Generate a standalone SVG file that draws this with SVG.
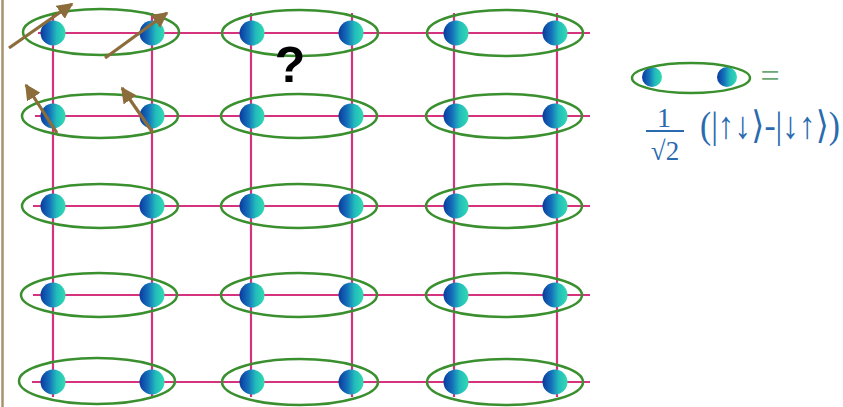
<svg xmlns="http://www.w3.org/2000/svg" width="843" height="407" viewBox="0 0 843 407">
  <defs>
    <linearGradient id="ball" x1="0%" y1="50%" x2="100%" y2="50%">
      <stop offset="0" stop-color="#0a3a9e"/>
      <stop offset="0.35" stop-color="#1570ba"/>
      <stop offset="0.65" stop-color="#22bcbc"/>
      <stop offset="1" stop-color="#32dab0"/>
    </linearGradient>
    <marker id="tip" viewBox="0 0 10 10" refX="9" refY="5" markerWidth="5" markerHeight="5" orient="auto" markerUnits="strokeWidth">
      <path d="M0,0 L10,5 L0,10 z" fill="#8c6c3a"/>
    </marker>
    <g id="pair">
      <circle cx="-49.5" cy="0" r="12.5" fill="url(#ball)"/>
      <circle cx="49.5" cy="0" r="12.5" fill="url(#ball)"/>
    </g>
  </defs>
  <style>
    .bond { fill: none; stroke: #3a8f2e; stroke-width: 2.5; }
    .lat { stroke: #d6337f; stroke-width: 2.2; fill: none; }
    .spin { stroke: #8c6c3a; stroke-width: 3.2; fill: none; marker-end: url(#tip); }
    .math { font-family: "Liberation Serif", "DejaVu Serif", serif; fill: #2a6bb0; }
  </style>

  <rect width="843" height="407" fill="#ffffff"/>
  <!-- left frame edge -->
  <line x1="2.5" y1="0" x2="2.5" y2="407" stroke="#a8926c" stroke-width="2.5"/>

  <!-- square lattice -->
  <g id="lattice">
    <g class="lat">
      <line x1="38" y1="33" x2="590" y2="33"/>
      <line x1="35" y1="116" x2="590" y2="116"/>
      <line x1="33" y1="206" x2="590" y2="206"/>
      <line x1="33" y1="295" x2="590" y2="295"/>
      <line x1="32" y1="382" x2="590" y2="382"/>
      <line x1="53" y1="13" x2="53" y2="397"/>
      <line x1="152" y1="13" x2="152" y2="397"/>
      <line x1="251" y1="13" x2="251" y2="397"/>
      <line x1="352" y1="13" x2="352" y2="397"/>
      <line x1="454" y1="13" x2="454" y2="397"/>
      <line x1="557" y1="13" x2="557" y2="397"/>
    </g>
  </g>

  <!-- singlet pairs: row 1 -->
  <g id="p11"><use href="#pair" x="102.5" y="33"/><ellipse class="bond" cx="101" cy="32" rx="78" ry="23"/></g>
  <g id="p12"><use href="#pair" x="301.5" y="33"/><ellipse class="bond" cx="300" cy="33" rx="78" ry="23"/></g>
  <g id="p13"><use href="#pair" x="505.5" y="33"/><ellipse class="bond" cx="505" cy="33" rx="78" ry="23"/></g>
  <!-- row 2 -->
  <g id="p21"><use href="#pair" x="102.5" y="116"/><ellipse class="bond" cx="100" cy="116" rx="78" ry="22"/></g>
  <g id="p22"><use href="#pair" x="301.5" y="116"/><ellipse class="bond" cx="299" cy="116" rx="78" ry="22"/></g>
  <g id="p23"><use href="#pair" x="505.5" y="116"/><ellipse class="bond" cx="504" cy="116" rx="78" ry="22"/></g>
  <!-- row 3 -->
  <g id="p31"><use href="#pair" x="102.5" y="206"/><ellipse class="bond" cx="100" cy="206" rx="78" ry="22"/></g>
  <g id="p32"><use href="#pair" x="301.5" y="206"/><ellipse class="bond" cx="299" cy="206" rx="78" ry="22"/></g>
  <g id="p33"><use href="#pair" x="505.5" y="206"/><ellipse class="bond" cx="504" cy="206" rx="78" ry="22"/></g>
  <!-- row 4 -->
  <g id="p41"><use href="#pair" x="102.5" y="295"/><ellipse class="bond" cx="99" cy="295" rx="78" ry="22"/></g>
  <g id="p42"><use href="#pair" x="301.5" y="295"/><ellipse class="bond" cx="299" cy="295" rx="78" ry="22"/></g>
  <g id="p43"><use href="#pair" x="505.5" y="295"/><ellipse class="bond" cx="504" cy="295" rx="78" ry="22"/></g>
  <!-- row 5 -->
  <g id="p51"><use href="#pair" x="102.5" y="382"/><ellipse class="bond" cx="97" cy="381" rx="78" ry="23"/></g>
  <g id="p52"><use href="#pair" x="301.5" y="382"/><ellipse class="bond" cx="300" cy="382" rx="78" ry="23"/></g>
  <g id="p53"><use href="#pair" x="505.5" y="382"/><ellipse class="bond" cx="505" cy="382" rx="78" ry="23"/></g>

  <!-- spin arrows -->
  <g id="spins">
    <line class="spin" x1="9" y1="48" x2="72" y2="4"/>
    <line class="spin" x1="105" y1="58" x2="167" y2="13"/>
    <line class="spin" x1="57" y1="133" x2="26" y2="85"/>
    <line class="spin" x1="153" y1="133" x2="122" y2="88"/>
  </g>

  <text id="question" x="290" y="82" font-family="Liberation Sans, Arial, sans-serif" font-weight="bold" font-size="50" text-anchor="middle" fill="#000">?</text>

  <!-- legend: a bonded pair equals the singlet state -->
  <g id="legend">
    <circle cx="652" cy="77" r="10" fill="url(#ball)"/>
    <circle cx="727" cy="77" r="10" fill="url(#ball)"/>
    <ellipse class="bond" cx="691" cy="78" rx="59" ry="15"/>
    <text x="770" y="87" font-family="Liberation Serif, serif" font-size="34" fill="#6aa874" text-anchor="middle">=</text>
    <text class="math" x="664" y="127" font-size="28" text-anchor="middle">1</text>
    <line x1="646" y1="131" x2="684" y2="131" stroke="#2a6bb0" stroke-width="1.8"/>
    <text class="math" x="665" y="160" font-size="27" text-anchor="middle">√2</text>
    <text class="math" transform="translate(700,138) scale(1,1.15)" x="0" y="0" font-size="33" textLength="140" lengthAdjust="spacingAndGlyphs">(|↑↓⟩-|↓↑⟩)</text>
  </g>
</svg>
